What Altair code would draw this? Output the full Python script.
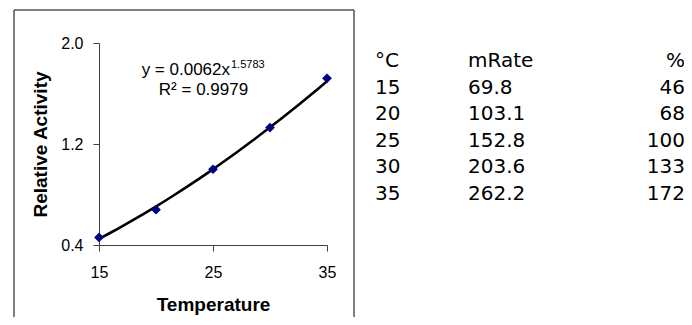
import altair as alt
import pandas as pd

# ---- data ----
temps = [15, 20, 25, 30, 35]
rel_activity = [0.46, 0.68, 1.00, 1.33, 1.72]
mrate_txt = ["69.8", "103.1", "152.8", "203.6", "262.2"]
pct_txt = ["46", "68", "100", "133", "172"]
header = ["°C", "mRate", "%"]
y_ticks = [0.4, 1.2, 2.0]
x_ticks = [15, 25, 35]
eq_main = "y = 0.0062x"
eq_exp = "1.5783"
eq_r2 = "R² = 0.9979"

pts = pd.DataFrame({"T": temps, "RA": rel_activity})

table = pd.DataFrame({
    "row": list(range(6)),
    "c1": [header[0]] + [str(t) for t in temps],
    "c2": [header[1]] + mrate_txt,
    "c3": [header[2]] + pct_txt,
})

one = pd.DataFrame({"k": [0]})

AXC = "#404040"
FONT = "Liberation Sans"

xenc = alt.X("T:Q",
             scale=alt.Scale(domain=[15, 35], nice=False, zero=False),
             axis=alt.Axis(values=x_ticks, title="Temperature", grid=False,
                           tickSize=6, labelPadding=13, titlePadding=15,
                           labelFont=FONT, labelFontSize=16, labelColor="black",
                           titleFont=FONT, titleFontSize=19, titleFontWeight="bold",
                           titleColor="black", domainColor=AXC, tickColor=AXC,
                           labelFlush=False))
yenc = alt.Y("RA:Q",
             scale=alt.Scale(domain=[0.4, 2.0], nice=False, zero=False),
             axis=alt.Axis(values=y_ticks, format=".1f", title="Relative Activity",
                           grid=False, tickSize=6, labelPadding=10, titlePadding=10,
                           labelFont=FONT, labelFontSize=16, labelColor="black",
                           titleFont=FONT, titleFontSize=19, titleFontWeight="bold",
                           titleColor="black", domainColor=AXC, tickColor=AXC,
                           labelFlush=False))

frame = alt.Chart(one).mark_rect(fill="transparent", stroke="black", strokeWidth=1).encode(
    x=alt.value(-85), x2=alt.value(255), y=alt.value(-33), y2=alt.value(320))

base = alt.Chart(pts)

trend = base.transform_regression("T", "RA", method="pow").mark_line(
    color="black", strokeWidth=2.6).encode(x=xenc, y=yenc)

points = base.mark_point(shape="diamond", filled=True, size=95, color="#000080",
                         opacity=1).encode(x=xenc, y=yenc)

eq_df = pd.DataFrame({"main": [eq_main], "exp": [eq_exp], "r2": [eq_r2]})
eq1 = alt.Chart(eq_df).mark_text(align="right", baseline="alphabetic", font=FONT,
                                 fontSize=17, color="black").encode(
    text="main:N", x=alt.value(131), y=alt.value(32))
eq2 = alt.Chart(eq_df).mark_text(align="left", baseline="alphabetic", font=FONT,
                                 fontSize=11, color="black").encode(
    text="exp:N", x=alt.value(132), y=alt.value(25))
eq3 = alt.Chart(eq_df).mark_text(align="center", baseline="alphabetic", font=FONT,
                                 fontSize=17, color="black").encode(
    text="r2:N", x=alt.value(104.5), y=alt.value(52))

row_y = alt.Y("row:Q", scale=alt.Scale(domain=[0, 5], range=[24, 157]), axis=None)
TF = "DejaVu Sans"
tab1 = alt.Chart(table).mark_text(align="left", baseline="alphabetic", font=TF,
                                  fontSize=20, color="black").encode(
    text="c1:N", x=alt.value(276), y=row_y)
tab2 = alt.Chart(table).mark_text(align="left", baseline="alphabetic", font=TF,
                                  fontSize=20, color="black").encode(
    text="c2:N", x=alt.value(369), y=row_y)
tab3 = alt.Chart(table).mark_text(align="right", baseline="alphabetic", font=TF,
                                  fontSize=20, color="black").encode(
    text="c3:N", x=alt.value(586), y=row_y)

plot = alt.layer(frame, trend, points, eq1, eq2, eq3).resolve_scale(y="shared")
tab = alt.layer(tab1, tab2, tab3)

chart = alt.layer(plot, tab).resolve_scale(y="independent").properties(
    width=228, height=202,
    autosize=alt.AutoSizeParams(type="none"),
    padding={"left": 91, "top": 35, "right": 357, "bottom": 72},
    background="white",
).configure_view(strokeWidth=0)

chart.save("out.html", embed_options={"renderer": "svg", "actions": False})
